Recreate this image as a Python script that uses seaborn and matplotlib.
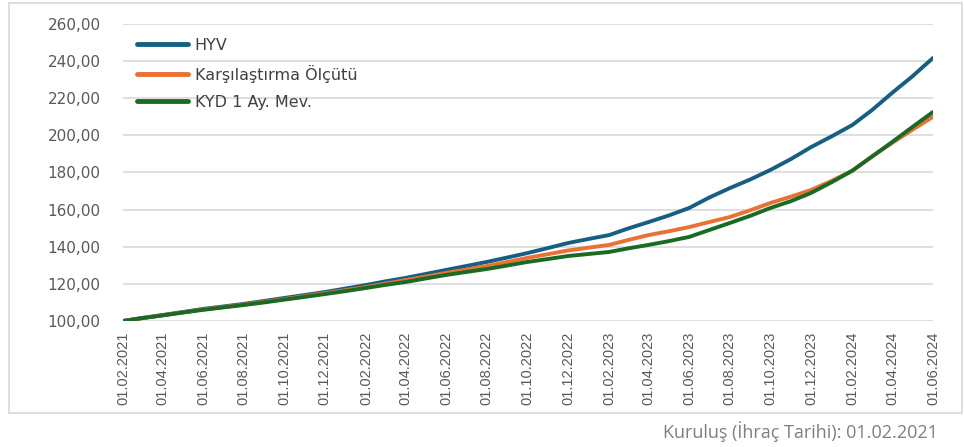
import pandas as pd
import matplotlib.pyplot as plt
import matplotlib.dates as mdates
import matplotlib.patches as mpatches
from matplotlib import font_manager
import seaborn as sns

# monthly values, 01.02.2021 .. 01.06.2024
dates = pd.date_range("2021-02-01", "2024-06-01", freq="MS")

hyv = [100.0, 101.6, 103.2, 104.8, 106.5, 107.8, 109.2, 110.8, 112.4, 114.0, 115.6,
       117.5, 119.4, 121.3, 123.2, 125.3, 127.5, 129.6, 131.8, 134.2, 136.6, 139.3, 142.0,
       144.2, 146.3, 149.8, 153.3, 156.8, 160.9, 166.5, 171.6, 176.3, 181.4, 187.3, 193.7,
       199.5, 205.6, 213.5, 223.0, 231.8, 241.7]
olcut = [100.0, 101.5, 103.0, 104.6, 106.2, 107.5, 108.8, 110.3, 111.8, 113.4, 115.0,
         116.6, 118.3, 120.1, 122.0, 123.9, 125.9, 127.7, 129.6, 131.8, 134.0, 136.0, 138.0,
         139.5, 141.0, 143.6, 146.3, 148.3, 150.6, 153.3, 156.0, 159.7, 163.6, 167.0, 170.6,
         175.5, 181.0, 188.5, 196.0, 203.0, 210.0]
kyd = [100.0, 101.5, 103.0, 104.5, 106.0, 107.3, 108.6, 110.0, 111.5, 113.0, 114.5,
       116.1, 117.8, 119.4, 121.0, 122.9, 124.8, 126.4, 128.0, 129.9, 131.8, 133.4, 135.0,
       136.1, 137.2, 139.1, 141.0, 143.0, 145.3, 149.0, 152.8, 156.7, 160.9, 164.6, 169.0,
       174.8, 181.0, 188.5, 196.5, 204.5, 212.6]

series_names = ["HYV", "Karşılaştırma Ölçütü", "KYD 1 Ay. Mev."]
colors = ["#156082", "#E97132", "#196B24"]

df = pd.DataFrame({"Tarih": dates, series_names[0]: hyv,
                   series_names[1]: olcut, series_names[2]: kyd})
long = df.melt(id_vars="Tarih", var_name="Seri", value_name="Deger")

sns.set_style("white")
plt.rcParams['font.family'] = ['DejaVu Sans']

# condensed font for the date labels if available
installed = {f.name for f in font_manager.fontManager.ttflist}
date_font = "Liberation Sans Narrow" if "Liberation Sans Narrow" in installed else "Liberation Sans"

fig = plt.figure(figsize=(9.64, 4.47), dpi=100)
# outer chart border
fig.patches.append(mpatches.Rectangle((9 / 964, 1 - 413 / 447), 953 / 964, 410 / 447,
                                      transform=fig.transFigure, fill=False,
                                      edgecolor="#d9d9d9", linewidth=1.2))
ax = fig.add_axes([123 / 964, 1 - 321 / 447, 810 / 964, 297 / 447])

sns.lineplot(data=long, x="Tarih", y="Deger", hue="Seri", hue_order=series_names,
             palette=colors, linewidth=2.8, ax=ax, legend=True)

ax.set_xlim(dates[0], dates[-1])
ax.set_ylim(100, 260)
ax.set_yticks(range(100, 261, 20))
ax.set_yticklabels([f"{v},00" for v in range(100, 261, 20)])
ax.xaxis.set_major_locator(mdates.MonthLocator(bymonth=[2, 4, 6, 8, 10, 12]))
ax.xaxis.set_major_formatter(mdates.DateFormatter("%d.%m.%Y"))
xfs = 12 if date_font.endswith("Narrow") else 10.5
plt.setp(ax.get_xticklabels(), rotation=90, fontsize=xfs, color="#595959",
         family=date_font)
plt.setp(ax.get_yticklabels(), fontsize=11, color="#595959")
ax.tick_params(axis="x", length=0, pad=8)
ax.tick_params(axis="y", length=0, pad=16)

ax.grid(axis="y", color="#d9d9d9", linewidth=1.2)
ax.set_axisbelow(True)
for s in ax.spines.values():
    s.set_visible(False)
ax.set_xlabel("")
ax.set_ylabel("")

leg = ax.legend(loc="upper left", bbox_to_anchor=(0.0, 1.0), frameon=False,
                fontsize=11.5, handlelength=3.2, labelspacing=0.75,
                handletextpad=0.45, borderaxespad=0.45, labelcolor="#404040")
for line in leg.get_lines():
    line.set_linewidth(3.5)
    line.set_solid_capstyle("round")

fig.text(938 / 964, 1 - 432 / 447, "Kuruluş (İhraç Tarihi): 01.02.2021",
         ha="right", va="center", fontsize=13, color="#7f7f7f", family="Open Sans")

fig.savefig("out.png", dpi=100)
plt.close(fig)
